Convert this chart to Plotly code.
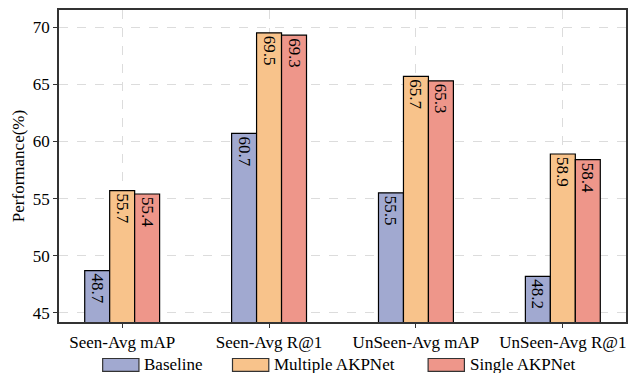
import plotly.graph_objects as go

categories = ["Seen-Avg mAP", "Seen-Avg R@1", "UnSeen-Avg mAP", "UnSeen-Avg R@1"]
series_names = ["Baseline", "Multiple AKPNet", "Single AKPNet"]
baseline = [48.7, 60.7, 55.5, 48.2]
multiple_akpnet = [55.7, 69.5, 65.7, 58.9]
single_akpnet = [55.4, 69.3, 65.3, 58.4]
y_ticks = [45, 50, 55, 60, 65, 70]

colors = ["#A1A9D0", "#F8C38B", "#EE968A"]
font_family = "Liberation Serif"

fig = go.Figure()
for name, vals, col in zip(series_names, [baseline, multiple_akpnet, single_akpnet], colors):
    fig.add_trace(go.Bar(
        x=categories,
        y=vals,
        name=name,
        marker=dict(color=col, line=dict(color="black", width=1.2)),
        text=[f"{v:.1f}" for v in vals],
        textposition="inside",
        insidetextanchor="end",
        textangle=90,
        textfont=dict(family=font_family, size=17, color="black"),
        showlegend=False,
    ))

# custom legend row with wide swatches
legend_items = [(0.077, 0.141), (0.306, 0.37), (0.651, 0.715)]
for (x0, x1), name, col in zip(legend_items, series_names, colors):
    fig.add_shape(type="rect", xref="paper", yref="paper",
                  x0=x0, x1=x1, y0=-0.158, y1=-0.117,
                  fillcolor=col, line=dict(color="#333333", width=1.2))
    fig.add_annotation(xref="paper", yref="paper", x=x1 + 0.006, y=-0.136,
                       text=name, showarrow=False, xanchor="left", yanchor="middle",
                       font=dict(family=font_family, size=17, color="black"))

fig.update_layout(
    width=636, height=373,
    margin=dict(l=59, r=9, t=8, b=51),
    paper_bgcolor="white", plot_bgcolor="white",
    barmode="group", bargap=0.49, bargroupgap=0,
    font=dict(family=font_family, size=17, color="black"),
)
fig.update_xaxes(
    range=[-0.43, 3.43],
    showline=True, linecolor="#333333", linewidth=1.5, mirror=True,
    ticks="outside", ticklen=4, tickcolor="#333333",
    showgrid=True, gridcolor="#dcdcdc", griddash="dash", gridwidth=1,
    tickfont=dict(family=font_family, size=17, color="black"),
)
fig.update_yaxes(
    range=[44.2, 71.5],
    tickvals=y_ticks,
    showline=True, linecolor="#333333", linewidth=1.5, mirror=True,
    ticks="outside", ticklen=4, tickcolor="#333333",
    showgrid=True, gridcolor="#dcdcdc", griddash="dash", gridwidth=1,
    zeroline=False,
    tickfont=dict(family=font_family, size=17, color="black"),
    title=dict(text="Performance(%)", font=dict(family=font_family, size=17, color="black"), standoff=4),
)

fig.write_html("out.html")
